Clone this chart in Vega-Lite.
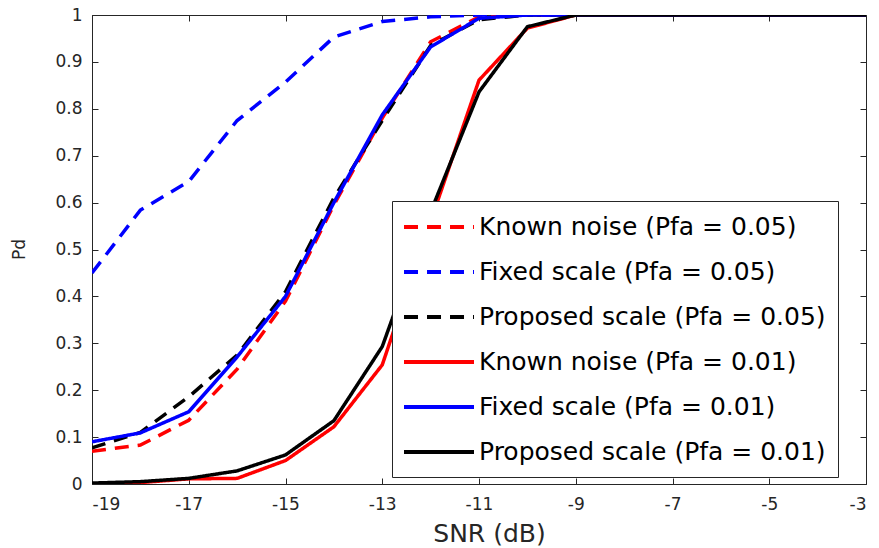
{
  "$schema": "https://vega.github.io/schema/vega-lite/v6.json",
  "width": 774,
  "height": 469,
  "autosize": {"type": "none"},
  "padding": {"left": 92, "top": 15, "right": 13, "bottom": 64},
  "background": "white",
  "config": {
    "view": {"stroke": "#262626", "strokeWidth": 1},
    "axis": {
      "gridColor": "#e3e3e3",
      "gridWidth": 1,
      "domainColor": "#262626",
      "tickColor": "#262626",
      "labelColor": "#262626",
      "titleColor": "#262626",
      "labelFont": "DejaVu Sans",
      "titleFont": "DejaVu Sans",
      "labelFontSize": 17,
      "titleFontWeight": "normal"
    },
    "legend": {
      "labelFont": "DejaVu Sans",
      "labelFontSize": 25,
      "labelColor": "#000000",
      "labelLimit": 600
    }
  },
  "data": {
    "values": [
      {"series": "Known noise (Pfa = 0.05)", "snr": -19, "pd": 0.07},
      {"series": "Known noise (Pfa = 0.05)", "snr": -18, "pd": 0.083},
      {"series": "Known noise (Pfa = 0.05)", "snr": -17, "pd": 0.136},
      {"series": "Known noise (Pfa = 0.05)", "snr": -16, "pd": 0.245},
      {"series": "Known noise (Pfa = 0.05)", "snr": -15, "pd": 0.39},
      {"series": "Known noise (Pfa = 0.05)", "snr": -14, "pd": 0.595},
      {"series": "Known noise (Pfa = 0.05)", "snr": -13, "pd": 0.78},
      {"series": "Known noise (Pfa = 0.05)", "snr": -12, "pd": 0.943},
      {"series": "Known noise (Pfa = 0.05)", "snr": -11, "pd": 0.996},
      {"series": "Known noise (Pfa = 0.05)", "snr": -10, "pd": 1},
      {"series": "Known noise (Pfa = 0.05)", "snr": -9, "pd": 1},
      {"series": "Known noise (Pfa = 0.05)", "snr": -8, "pd": 1},
      {"series": "Known noise (Pfa = 0.05)", "snr": -7, "pd": 1},
      {"series": "Known noise (Pfa = 0.05)", "snr": -6, "pd": 1},
      {"series": "Known noise (Pfa = 0.05)", "snr": -5, "pd": 1},
      {"series": "Known noise (Pfa = 0.05)", "snr": -4, "pd": 1},
      {"series": "Known noise (Pfa = 0.05)", "snr": -3, "pd": 1},
      {"series": "Fixed scale (Pfa = 0.05)", "snr": -19, "pd": 0.45},
      {"series": "Fixed scale (Pfa = 0.05)", "snr": -18, "pd": 0.584},
      {"series": "Fixed scale (Pfa = 0.05)", "snr": -17, "pd": 0.645},
      {"series": "Fixed scale (Pfa = 0.05)", "snr": -16, "pd": 0.775},
      {"series": "Fixed scale (Pfa = 0.05)", "snr": -15, "pd": 0.857},
      {"series": "Fixed scale (Pfa = 0.05)", "snr": -14, "pd": 0.953},
      {"series": "Fixed scale (Pfa = 0.05)", "snr": -13, "pd": 0.986},
      {"series": "Fixed scale (Pfa = 0.05)", "snr": -12, "pd": 0.996},
      {"series": "Fixed scale (Pfa = 0.05)", "snr": -11, "pd": 1},
      {"series": "Fixed scale (Pfa = 0.05)", "snr": -10, "pd": 1},
      {"series": "Fixed scale (Pfa = 0.05)", "snr": -9, "pd": 1},
      {"series": "Fixed scale (Pfa = 0.05)", "snr": -8, "pd": 1},
      {"series": "Fixed scale (Pfa = 0.05)", "snr": -7, "pd": 1},
      {"series": "Fixed scale (Pfa = 0.05)", "snr": -6, "pd": 1},
      {"series": "Fixed scale (Pfa = 0.05)", "snr": -5, "pd": 1},
      {"series": "Fixed scale (Pfa = 0.05)", "snr": -4, "pd": 1},
      {"series": "Fixed scale (Pfa = 0.05)", "snr": -3, "pd": 1},
      {"series": "Proposed scale (Pfa = 0.05)", "snr": -19, "pd": 0.077},
      {"series": "Proposed scale (Pfa = 0.05)", "snr": -18, "pd": 0.11},
      {"series": "Proposed scale (Pfa = 0.05)", "snr": -17, "pd": 0.186},
      {"series": "Proposed scale (Pfa = 0.05)", "snr": -16, "pd": 0.275},
      {"series": "Proposed scale (Pfa = 0.05)", "snr": -15, "pd": 0.41},
      {"series": "Proposed scale (Pfa = 0.05)", "snr": -14, "pd": 0.61},
      {"series": "Proposed scale (Pfa = 0.05)", "snr": -13, "pd": 0.775},
      {"series": "Proposed scale (Pfa = 0.05)", "snr": -12, "pd": 0.935},
      {"series": "Proposed scale (Pfa = 0.05)", "snr": -11, "pd": 0.99},
      {"series": "Proposed scale (Pfa = 0.05)", "snr": -10, "pd": 1},
      {"series": "Proposed scale (Pfa = 0.05)", "snr": -9, "pd": 1},
      {"series": "Proposed scale (Pfa = 0.05)", "snr": -8, "pd": 1},
      {"series": "Proposed scale (Pfa = 0.05)", "snr": -7, "pd": 1},
      {"series": "Proposed scale (Pfa = 0.05)", "snr": -6, "pd": 1},
      {"series": "Proposed scale (Pfa = 0.05)", "snr": -5, "pd": 1},
      {"series": "Proposed scale (Pfa = 0.05)", "snr": -4, "pd": 1},
      {"series": "Proposed scale (Pfa = 0.05)", "snr": -3, "pd": 1},
      {"series": "Known noise (Pfa = 0.01)", "snr": -19, "pd": 0.0},
      {"series": "Known noise (Pfa = 0.01)", "snr": -18, "pd": 0.003},
      {"series": "Known noise (Pfa = 0.01)", "snr": -17, "pd": 0.011},
      {"series": "Known noise (Pfa = 0.01)", "snr": -16, "pd": 0.012},
      {"series": "Known noise (Pfa = 0.01)", "snr": -15, "pd": 0.05},
      {"series": "Known noise (Pfa = 0.01)", "snr": -14, "pd": 0.122},
      {"series": "Known noise (Pfa = 0.01)", "snr": -13, "pd": 0.254},
      {"series": "Known noise (Pfa = 0.01)", "snr": -12, "pd": 0.56},
      {"series": "Known noise (Pfa = 0.01)", "snr": -11, "pd": 0.861},
      {"series": "Known noise (Pfa = 0.01)", "snr": -10, "pd": 0.972},
      {"series": "Known noise (Pfa = 0.01)", "snr": -9, "pd": 1},
      {"series": "Known noise (Pfa = 0.01)", "snr": -8, "pd": 1},
      {"series": "Known noise (Pfa = 0.01)", "snr": -7, "pd": 1},
      {"series": "Known noise (Pfa = 0.01)", "snr": -6, "pd": 1},
      {"series": "Known noise (Pfa = 0.01)", "snr": -5, "pd": 1},
      {"series": "Known noise (Pfa = 0.01)", "snr": -4, "pd": 1},
      {"series": "Known noise (Pfa = 0.01)", "snr": -3, "pd": 1},
      {"series": "Fixed scale (Pfa = 0.01)", "snr": -19, "pd": 0.09},
      {"series": "Fixed scale (Pfa = 0.01)", "snr": -18, "pd": 0.109},
      {"series": "Fixed scale (Pfa = 0.01)", "snr": -17, "pd": 0.154},
      {"series": "Fixed scale (Pfa = 0.01)", "snr": -16, "pd": 0.271},
      {"series": "Fixed scale (Pfa = 0.01)", "snr": -15, "pd": 0.4},
      {"series": "Fixed scale (Pfa = 0.01)", "snr": -14, "pd": 0.6},
      {"series": "Fixed scale (Pfa = 0.01)", "snr": -13, "pd": 0.787},
      {"series": "Fixed scale (Pfa = 0.01)", "snr": -12, "pd": 0.932},
      {"series": "Fixed scale (Pfa = 0.01)", "snr": -11, "pd": 0.993},
      {"series": "Fixed scale (Pfa = 0.01)", "snr": -10, "pd": 1},
      {"series": "Fixed scale (Pfa = 0.01)", "snr": -9, "pd": 1},
      {"series": "Fixed scale (Pfa = 0.01)", "snr": -8, "pd": 1},
      {"series": "Fixed scale (Pfa = 0.01)", "snr": -7, "pd": 1},
      {"series": "Fixed scale (Pfa = 0.01)", "snr": -6, "pd": 1},
      {"series": "Fixed scale (Pfa = 0.01)", "snr": -5, "pd": 1},
      {"series": "Fixed scale (Pfa = 0.01)", "snr": -4, "pd": 1},
      {"series": "Fixed scale (Pfa = 0.01)", "snr": -3, "pd": 1},
      {"series": "Proposed scale (Pfa = 0.01)", "snr": -19, "pd": 0.002},
      {"series": "Proposed scale (Pfa = 0.01)", "snr": -18, "pd": 0.005},
      {"series": "Proposed scale (Pfa = 0.01)", "snr": -17, "pd": 0.012},
      {"series": "Proposed scale (Pfa = 0.01)", "snr": -16, "pd": 0.028},
      {"series": "Proposed scale (Pfa = 0.01)", "snr": -15, "pd": 0.062},
      {"series": "Proposed scale (Pfa = 0.01)", "snr": -14, "pd": 0.135},
      {"series": "Proposed scale (Pfa = 0.01)", "snr": -13, "pd": 0.293},
      {"series": "Proposed scale (Pfa = 0.01)", "snr": -12, "pd": 0.58},
      {"series": "Proposed scale (Pfa = 0.01)", "snr": -11, "pd": 0.836},
      {"series": "Proposed scale (Pfa = 0.01)", "snr": -10, "pd": 0.975},
      {"series": "Proposed scale (Pfa = 0.01)", "snr": -9, "pd": 1},
      {"series": "Proposed scale (Pfa = 0.01)", "snr": -8, "pd": 1},
      {"series": "Proposed scale (Pfa = 0.01)", "snr": -7, "pd": 1},
      {"series": "Proposed scale (Pfa = 0.01)", "snr": -6, "pd": 1},
      {"series": "Proposed scale (Pfa = 0.01)", "snr": -5, "pd": 1},
      {"series": "Proposed scale (Pfa = 0.01)", "snr": -4, "pd": 1},
      {"series": "Proposed scale (Pfa = 0.01)", "snr": -3, "pd": 1}
    ]
  },
  "layer": [
    {
      "mark": {"type": "line", "opacity": 0},
      "encoding": {
        "x": {
          "field": "snr",
          "type": "quantitative",
          "scale": {"domain": [-19, -3], "nice": false, "zero": false},
          "axis": {
            "orient": "top",
            "values": [-19, -17, -15, -13, -11, -9, -7, -5, -3],
            "labels": false,
            "grid": false,
            "domain": false,
            "tickSize": -6,
            "title": null
          }
        },
        "y": {
          "field": "pd",
          "type": "quantitative",
          "scale": {"domain": [0, 1], "nice": false},
          "axis": {
            "orient": "right",
            "values": [0, 0.1, 0.2, 0.3, 0.4, 0.5, 0.6, 0.7, 0.8, 0.9, 1],
            "labels": false,
            "grid": false,
            "domain": false,
            "tickSize": -6,
            "title": null
          }
        },
        "detail": {"field": "series"}
      }
    },
    {
      "mark": {"type": "line", "strokeWidth": 3.5, "clip": true},
      "encoding": {
        "x": {
          "field": "snr",
          "type": "quantitative",
          "title": "SNR (dB)",
          "scale": {"domain": [-19, -3], "nice": false, "zero": false},
          "axis": {
            "values": [-19, -17, -15, -13, -11, -9, -7, -5, -3],
            "labelExpr": "'' + datum.value",
            "labelFontSize": 17,
            "tickSize": -6,
            "labelPadding": 18,
            "titleFontSize": 25,
            "titleX": 397,
            "titleY": 57,
            "titleBaseline": "alphabetic"
          }
        },
        "y": {
          "field": "pd",
          "type": "quantitative",
          "title": "Pd",
          "scale": {"domain": [0, 1], "nice": false},
          "axis": {
            "values": [0, 0.1, 0.2, 0.3, 0.4, 0.5, 0.6, 0.7, 0.8, 0.9, 1],
            "format": "~g",
            "labelFontSize": 17,
            "tickSize": -6,
            "labelPadding": 16,
            "titleFontSize": 17,
            "titleX": -68,
            "titleY": 234,
            "titleBaseline": "alphabetic"
          }
        },
        "color": {
          "field": "series",
          "type": "nominal",
          "scale": {
            "domain": ["Known noise (Pfa = 0.05)", "Fixed scale (Pfa = 0.05)", "Proposed scale (Pfa = 0.05)", "Known noise (Pfa = 0.01)", "Fixed scale (Pfa = 0.01)", "Proposed scale (Pfa = 0.01)"],
            "range": ["#ff0000", "#0000ff", "#000000", "#ff0000", "#0000ff", "#000000"]
          },
          "legend": {
            "title": null,
            "orient": "none",
            "legendX": 300,
            "legendY": 186,
            "fillColor": "white",
            "strokeColor": "#262626",
            "padding": 12,
            "symbolType": "M-3,0H3",
            "symbolSize": 544,
            "symbolStrokeWidth": 4,
            "symbolOffset": 21,
            "labelOffset": 26,
            "rowPadding": 18
          }
        },
        "strokeDash": {
          "field": "series",
          "type": "nominal",
          "scale": {
            "domain": ["Known noise (Pfa = 0.05)", "Fixed scale (Pfa = 0.05)", "Proposed scale (Pfa = 0.05)", "Known noise (Pfa = 0.01)", "Fixed scale (Pfa = 0.01)", "Proposed scale (Pfa = 0.01)"],
            "range": [[14, 9], [14, 9], [14, 9], [1, 0], [1, 0], [1, 0]]
          },
          "legend": {
            "title": null,
            "orient": "none",
            "legendX": 300,
            "legendY": 186,
            "fillColor": "white",
            "strokeColor": "#262626",
            "padding": 12,
            "symbolType": "M-3,0H3",
            "symbolSize": 544,
            "symbolStrokeWidth": 4,
            "symbolOffset": 21,
            "labelOffset": 26,
            "rowPadding": 18
          }
        }
      }
    }
  ],
  "resolve": {"axis": {"x": "independent", "y": "independent"}}
}
